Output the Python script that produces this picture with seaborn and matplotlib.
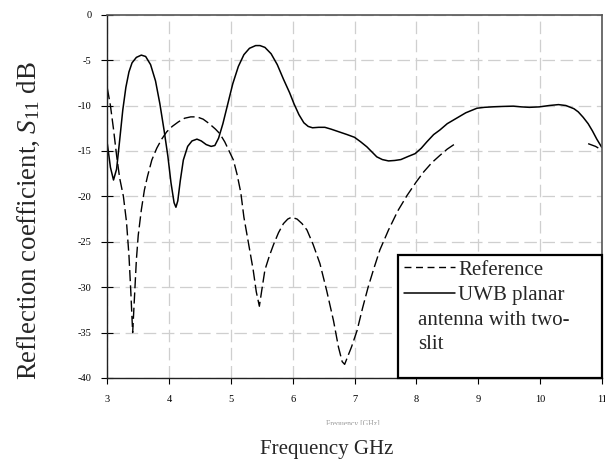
import numpy as np
import pandas as pd
import matplotlib
matplotlib.use("Agg")
import matplotlib.pyplot as plt
from matplotlib.patches import Rectangle
from matplotlib.lines import Line2D
import seaborn as sns

# ---- Data ----
# UWB planar antenna with two-slit (solid)
uwb_freq = [3.00, 3.05, 3.10, 3.15, 3.20, 3.25, 3.30, 3.35, 3.40, 3.47, 3.55, 3.62,
            3.70, 3.78, 3.85, 3.92, 3.98, 4.03, 4.08, 4.11, 4.14, 4.18, 4.23, 4.30,
            4.37, 4.45, 4.52, 4.60, 4.68, 4.74, 4.80, 4.87, 4.95, 5.03, 5.12, 5.21,
            5.30, 5.40, 5.47, 5.55, 5.65, 5.75, 5.85, 5.95, 6.02, 6.10, 6.18, 6.25,
            6.32, 6.42, 6.52, 6.62, 6.75, 6.88, 7.00, 7.10, 7.20, 7.36, 7.45, 7.55,
            7.65, 7.75, 7.87, 7.98, 8.08, 8.17, 8.28, 8.38, 8.50, 8.65, 8.80, 8.98,
            9.10, 9.25, 9.40, 9.57, 9.70, 9.83, 9.99, 10.15, 10.30, 10.42, 10.55,
            10.62, 10.70, 10.78, 10.85, 10.92, 11.00]
uwb_db = [-14.2, -16.8, -18.2, -17.0, -13.8, -10.5, -8.0, -6.3, -5.3, -4.7, -4.45, -4.6,
          -5.5, -7.3, -9.8, -12.8, -15.6, -18.5, -20.7, -21.2, -20.5, -18.3, -16.0, -14.5,
          -13.9, -13.7, -13.9, -14.3, -14.5, -14.4, -13.6, -12.0, -9.8, -7.6, -5.7, -4.4,
          -3.7, -3.4, -3.4, -3.6, -4.3, -5.5, -7.1, -8.6, -9.8, -11.0, -11.9, -12.3,
          -12.45, -12.4, -12.4, -12.6, -12.9, -13.2, -13.5, -14.0, -14.55, -15.65, -15.95, -16.1,
          -16.05, -15.95, -15.6, -15.3, -14.7, -14.0, -13.2, -12.7, -12.0, -11.4, -10.8, -10.3,
          -10.2, -10.14, -10.1, -10.07, -10.15, -10.2, -10.15, -10.0, -9.9, -10.0, -10.35,
          -10.7, -11.3, -12.0, -12.8, -13.7, -14.6]

# Reference antenna (dashed), main run
ref_freq = [3.00, 3.05, 3.10, 3.15, 3.20, 3.26, 3.31, 3.35, 3.38, 3.41, 3.44, 3.47,
            3.50, 3.55, 3.60, 3.65, 3.72, 3.80, 3.88, 3.96, 4.05, 4.15, 4.25, 4.35,
            4.45, 4.55, 4.65, 4.75, 4.82, 4.90, 4.97, 5.04, 5.10, 5.16, 5.21, 5.28,
            5.36, 5.41, 5.46, 5.50, 5.55, 5.62, 5.69, 5.77, 5.85, 5.92, 5.98, 6.07,
            6.15, 6.23, 6.33, 6.44, 6.55, 6.66, 6.74, 6.80, 6.84, 6.88, 6.95, 7.04,
            7.13, 7.22, 7.31, 7.41, 7.55, 7.70, 7.85, 8.00, 8.12, 8.25, 8.38, 8.50,
            8.63]
ref_db = [-8.1, -10.0, -12.6, -15.5, -18.0, -20.0, -22.8, -26.5, -30.5, -35.0, -31.0, -27.0,
          -24.3, -21.5, -19.3, -17.8, -16.0, -14.7, -13.7, -12.9, -12.3, -11.8, -11.4, -11.25,
          -11.25, -11.5, -12.0, -12.6, -13.1, -14.0, -15.0, -16.0, -17.6, -19.6, -22.3, -25.0,
          -28.1, -30.5, -32.1, -30.3, -28.1, -26.6, -25.3, -24.0, -23.0, -22.5, -22.3, -22.5,
          -23.0, -23.7, -25.3, -27.4, -30.4, -33.7, -36.6, -38.2, -38.5, -37.8, -36.6, -34.8,
          -32.3, -30.0, -28.0, -25.9, -23.7, -21.6, -19.9, -18.4, -17.3, -16.3, -15.5, -14.8,
          -14.2]
# Reference, short piece at the right edge
ref_tail_freq = [10.78, 10.90, 11.00]
ref_tail_db = [-14.2, -14.5, -14.9]

x_ticks = [3, 4, 5, 6, 7, 8, 9, 10, 11]
y_ticks = [0, -5, -10, -15, -20, -25, -30, -35, -40]


def main():
    sns.set_theme(style="white")
    plt.rcParams["font.family"] = ["Liberation Serif", "DejaVu Serif"]
    plt.rcParams["mathtext.fontset"] = "custom"
    plt.rcParams["mathtext.rm"] = "Liberation Serif"
    plt.rcParams["mathtext.it"] = "Liberation Serif:italic"
    plt.rcParams["axes.unicode_minus"] = False

    uwb = pd.DataFrame({"freq": uwb_freq, "db": uwb_db})
    ref = pd.concat([
        pd.DataFrame({"freq": ref_freq, "db": ref_db, "seg": 0}),
        pd.DataFrame({"freq": ref_tail_freq, "db": ref_tail_db, "seg": 1}),
    ], ignore_index=True)

    fig = plt.figure(figsize=(6.05, 4.65), dpi=100)
    ax = fig.add_axes([0.1774, 0.1871, 0.8172, 0.7813])

    # grid first
    ax.set_axisbelow(True)
    ax.grid(True, color="#cfcfcf", linewidth=0.9, linestyle=(0, (10, 4.5)))

    sns.lineplot(data=ref, x="freq", y="db", units="seg", estimator=None, sort=False,
                 color="black", linewidth=1.0, ax=ax)
    for ln in ax.lines:
        ln.set_dashes([8, 3])
    sns.lineplot(data=uwb, x="freq", y="db", estimator=None, sort=False,
                 color="black", linewidth=1.1, ax=ax)

    ax.set_xlim(3, 11)
    ax.set_ylim(-40, 0)
    ax.set_xticks(x_ticks)
    ax.set_yticks(y_ticks)
    ax.set_xticklabels([str(t) for t in x_ticks])
    ax.set_yticklabels([str(t) for t in y_ticks])
    ax.set_xlabel("")
    ax.set_ylabel("")

    ax.tick_params(axis="x", direction="out", length=4.3, width=0.8, pad=8,
                   labelsize=7.5, colors="black", bottom=True)
    ax.tick_params(axis="y", direction="inout", length=8, width=0.8, pad=7.5,
                   labelsize=7.5, colors="black", left=True)

    for side in ["left", "bottom"]:
        ax.spines[side].set_color("#222222")
        ax.spines[side].set_linewidth(1.0)
    for side in ["top", "right"]:
        ax.spines[side].set_color("#555555")
        ax.spines[side].set_linewidth(1.2)

    # legend box (sits on the bottom-right corner of the axes)
    ax.add_patch(Rectangle((0.588, 0.0), 0.412, 0.338, transform=ax.transAxes,
                           facecolor="white", edgecolor="black", linewidth=1.6,
                           zorder=5, clip_on=False))
    handles = [Line2D([], [], color="black", linewidth=1.0, dashes=[5, 3.3]),
               Line2D([], [], color="black", linewidth=1.1)]
    leg = ax.legend(handles, ["Reference", "UWB planar"], loc="upper left",
                    bbox_to_anchor=(0.600, 0.325), frameon=False, fontsize=15,
                    handlelength=2.45, handletextpad=0.15, labelspacing=0.3,
                    borderpad=0.0, borderaxespad=0.0)
    leg.set_zorder(6)
    ax.text(0.628, 0.147, "antenna with two-", transform=ax.transAxes, fontsize=15,
            va="baseline", ha="left", zorder=6)
    ax.text(0.628, 0.081, "slit", transform=ax.transAxes, fontsize=15,
            va="baseline", ha="left", zorder=6)

    # axis titles
    fig.text(0.048, 0.525, r"Reflection coefficient, $S_{\mathit{11}}$ dB",
             rotation=90, fontsize=19.4, ha="center", va="center")
    fig.text(0.5405, 0.0344, "Frequency GHz", fontsize=15, ha="center", va="center")

    # leftover tiny label, mostly hidden in the source figure
    fig.text(0.583, 1 - 424 / 465, "Frequency [GHz]", fontsize=5.5, color="#999999",
             ha="center", va="center")
    fig.patches.append(Rectangle((0.45, 1 - 436 / 465), 0.25, 11 / 465,
                                 transform=fig.transFigure, facecolor="white",
                                 edgecolor="none", zorder=10))

    fig.savefig("out.png", dpi=100)
    plt.close(fig)


if __name__ == "__main__":
    main()
